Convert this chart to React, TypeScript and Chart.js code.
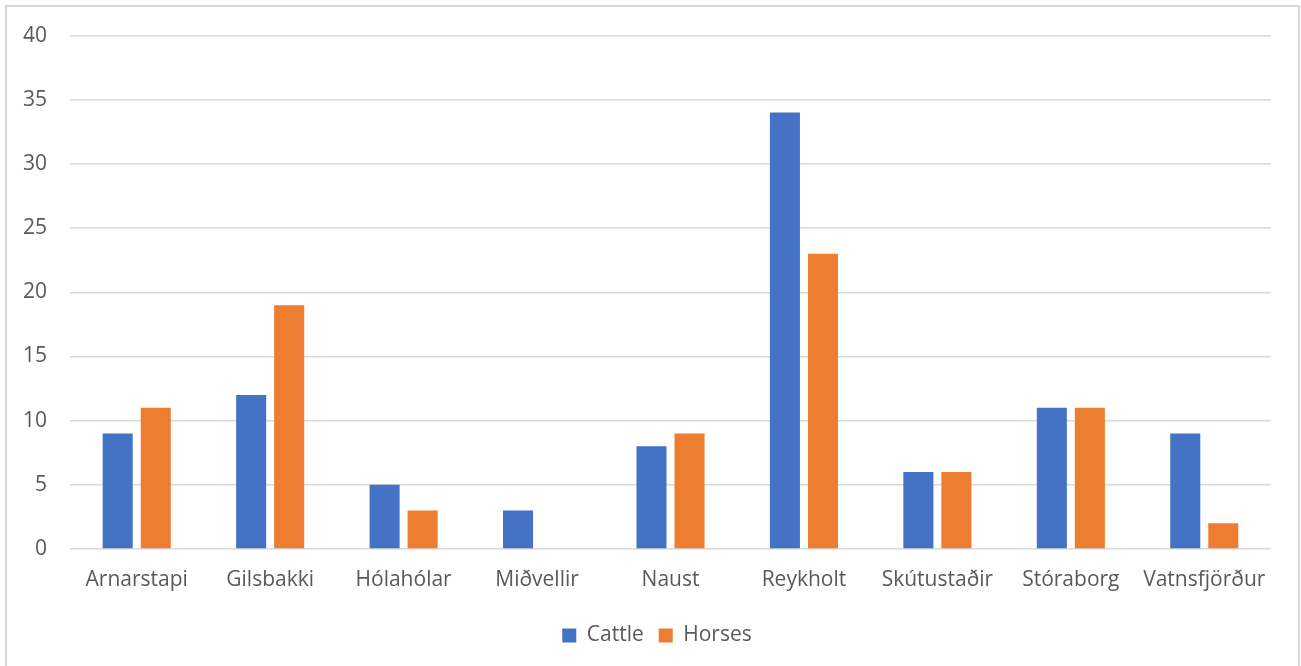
import React, { useEffect, useRef } from "react";
import { Chart, registerables } from "chart.js";

Chart.register(...registerables);

const farms = [
  "Arnarstapi",
  "Gilsbakki",
  "Hólahólar",
  "Miðvellir",
  "Naust",
  "Reykholt",
  "Skútustaðir",
  "Stóraborg",
  "Vatnsfjörður",
];
const cattle = [9, 12, 5, 3, 8, 34, 6, 11, 9];
const horses = [11, 19, 3, 0, 9, 23, 6, 11, 2];
const yMax = 40;
const yStep = 5;

const FONT = "'Open Sans', 'Noto Sans', sans-serif";
const TEXT = "#595959";
const GRID = "#d9d9d9";

// Nudges the bottom legend so it sits centred under the whole frame
// rather than under the layout box.
const legendShift = {
  id: "legendShift",
  afterLayout(chart: any) {
    const lg = chart.legend;
    if (!lg) return;
    lg.left += 21.5;
    lg.right += 21.5;
  },
};

export default function App() {
  const canvasRef = useRef<HTMLCanvasElement | null>(null);

  useEffect(() => {
    if (!canvasRef.current) return;
    const chart = new Chart(canvasRef.current, {
      type: "bar",
      data: {
        labels: farms,
        datasets: [
          {
            label: "Cattle",
            data: cattle,
            backgroundColor: "#4472C4",
            borderWidth: 0,
            categoryPercentage: 0.57,
            barPercentage: 0.79,
          },
          {
            label: "Horses",
            data: horses,
            backgroundColor: "#ED7D31",
            borderWidth: 0,
            categoryPercentage: 0.57,
            barPercentage: 0.79,
          },
        ],
      },
      options: {
        animation: false,
        responsive: false,
        maintainAspectRatio: false,
        layout: { padding: { top: 34, right: 30, bottom: 10, left: 0 } },
        plugins: {
          tooltip: { enabled: false },
          legend: {
            position: "bottom",
            labels: {
              boxWidth: 14,
              boxHeight: 14,
              padding: 15,
              color: TEXT,
              font: { family: FONT, size: 21 },
            },
          },
        },
        scales: {
          x: {
            grid: { display: false, drawTicks: false },
            border: { display: false },
            ticks: {
              color: TEXT,
              padding: 18,
              maxRotation: 0,
              font: { family: FONT, size: 21 },
            },
            afterFit: (scale: any) => {
              scale.height = 61;
            },
          },
          y: {
            min: 0,
            max: yMax,
            border: { display: false },
            grid: { color: GRID, lineWidth: 1.5, drawTicks: false },
            ticks: {
              stepSize: yStep,
              color: TEXT,
              padding: 23,
              font: { family: FONT, size: 21 },
            },
            afterFit: (scale: any) => {
              scale.width = 70;
            },
          },
        },
      },
      plugins: [legendShift],
    });
    return () => chart.destroy();
  }, []);

  return (
    <div
      style={{
        position: "fixed",
        left: 0,
        top: 0,
        width: 1301,
        height: 666,
        overflow: "hidden",
        background: "#ffffff",
      }}
    >
      <div
        style={{
          position: "absolute",
          left: 5,
          top: 5,
          width: 1295,
          height: 700,
          border: `2px solid ${GRID}`,
          boxSizing: "border-box",
        }}
      />
      <canvas
        ref={canvasRef}
        width={1301}
        height={666}
        style={{ position: "absolute", left: 0, top: 0, width: 1301, height: 666 }}
      />
    </div>
  );
}
